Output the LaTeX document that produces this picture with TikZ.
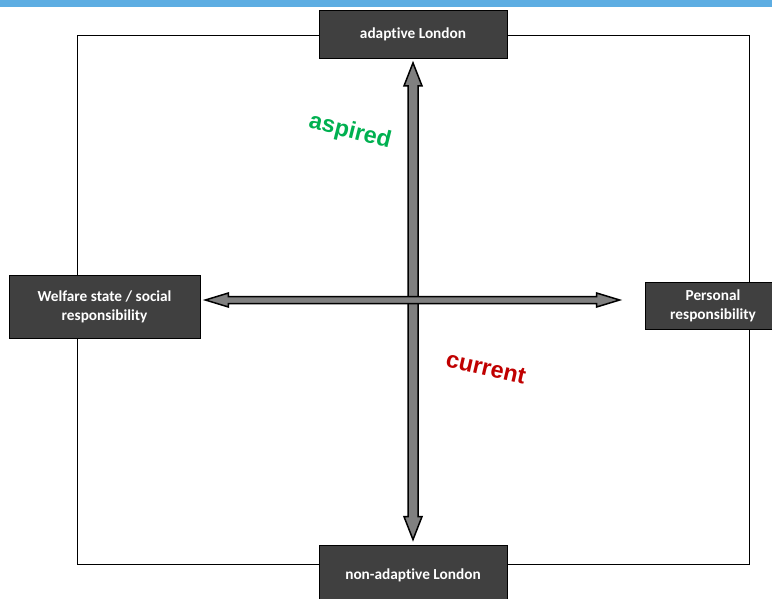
\documentclass[tikz,border=0pt]{standalone}
\usepackage{fontspec}
\setmainfont[Ligatures=NoCommon]{Carlito}
\newfontfamily\labfont{Liberation Sans}
\usetikzlibrary{calc}
\definecolor{boxgray}{HTML}{404040}
\definecolor{topblue}{HTML}{5DADE2}
\definecolor{aspgreen}{HTML}{00B050}
\definecolor{curred}{HTML}{C00000}
\definecolor{arrgray}{HTML}{808080}
\begin{document}
\begin{tikzpicture}[x=1pt,y=-1pt,
  box/.style={draw=black,line width=0.8pt,fill=boxgray,text=white,align=center,
    font=\fontsize{15.3}{19}\selectfont\bfseries,inner sep=0pt},
  bigarrow/.style={draw=black,line width=1.5pt,fill=arrgray,line join=miter},
  lab/.style={font=\labfont\fontsize{23.5}{26}\selectfont\bfseries}]
\useasboundingbox (0,0) rectangle (772,599);
\clip (0,0) rectangle (772,599);
\fill[topblue] (0,0) rectangle (772,7);
\draw[line width=0.8pt] (77,35) rectangle (749,564);
\node[box,minimum width=188pt,minimum height=48pt] (top) at (413,34.5) {adaptive London};
\node[box,minimum width=188pt,minimum height=60pt] (bot) at (413,575) {non-adaptive London};
\node[box,minimum width=191pt,minimum height=63pt] (left) at (104.5,306.5) {Welfare state / social\\responsibility};
\node[box,minimum width=136pt,minimum height=47pt] (right) at (713,305.5) {Personal\\responsibility};
\coordinate (c) at (413,300);
\coordinate (vt) at ($(top.south)+(0,4)$);
\coordinate (vb) at ($(bot.north)+(0,-5)$);
\coordinate (hl) at ($(left.east |- c)+(5,0)$);
\coordinate (hr) at ($(right.west |- c)+(-25,0)$);
\draw[bigarrow] (vt) -- ++(9,23) -- ++(-4,0) -- ($(vb)+(5,-23)$) -- ++(4,0) -- (vb)
  -- ++(-9,-23) -- ++(4,0) -- ($(vt)+(-5,23)$) -- ++(-4,0) -- cycle;
\draw[bigarrow] (hl) -- ++(23,-7) -- ++(0,3.5) -- ($(hr)+(-23,-3.5)$) -- ++(0,-3.5) -- (hr)
  -- ++(-23,7) -- ++(0,-3.5) -- ($(hl)+(23,3.5)$) -- ++(0,3.5) -- cycle;
\node[lab,text=aspgreen,rotate=-14] (asp) at (350,132) {aspired};
\node[lab,text=curred,rotate=-13] (cur) at (486,368) {current};
\end{tikzpicture}
\end{document}
